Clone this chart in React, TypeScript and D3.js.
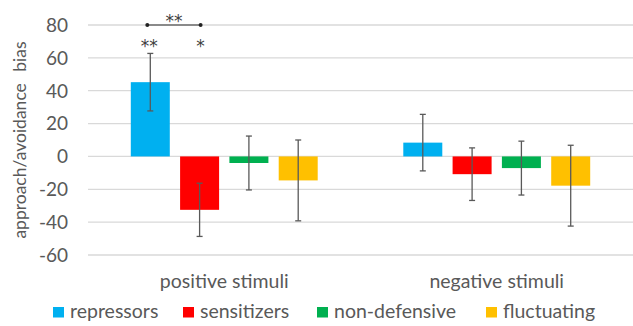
import React from "react";
import * as d3 from "d3";

const categories = ["positive stimuli", "negative stimuli"];
const groups = ["repressors", "sensitizers", "non-defensive", "fluctuating"];
const colors = ["#00B0F0", "#FF0000", "#00B050", "#FFC000"];
const positiveMeans = [45.2, -32.5, -4, -14.6];
const positiveErrors = [17.5, 16.2, 16.4, 24.6];
const negativeMeans = [8.4, -10.8, -7.1, -17.8];
const negativeErrors = [17.2, 16, 16.4, 24.6];
const yTicks = [-60, -40, -20, 0, 20, 40, 60, 80];

const W = 633, H = 326;
const FONT = "Lato, 'Open Sans', sans-serif";
const STAR = "'DejaVu Sans', sans-serif";

export default function App() {
  const x0 = d3.scaleBand<string>().domain(categories).range([88, 633]).paddingInner(0).paddingOuter(0);
  const y = d3.scaleLinear().domain([-60, 80]).range([255, 25]);
  const x1 = d3.scaleBand<string>().domain(groups).range([0, x0.bandwidth()]).paddingInner(0.209).paddingOuter(0.868);
  const means = [positiveMeans, negativeMeans];
  const errs = [positiveErrors, negativeErrors];
  const cx = (ci: number, gi: number) => (x0(categories[ci]) as number) + (x1(groups[gi]) as number) + x1.bandwidth() / 2;

  const legendX = [53, 183, 317, 486];
  const b0 = cx(0, 0), b1 = cx(0, 1);
  return (
    <svg width={W} height={H} style={{ position: "absolute", left: 0, top: 0, background: "#fff" }}>
      {yTicks.map((t) => (
        <g key={t}>
          <line x1={88} x2={633} y1={y(t)} y2={y(t)} stroke="#D9D9D9" strokeWidth={1.3} />
          <text x={68} y={y(t)} dy="0.36em" textAnchor="end" fontFamily={FONT} fontSize={19} fill="#595959">{t}</text>
        </g>
      ))}
      {categories.map((c, ci) =>
        groups.map((g, gi) => {
          const v = means[ci][gi];
          const e = errs[ci][gi];
          const xx = (x0(c) as number) + (x1(g) as number);
          const mid = xx + x1.bandwidth() / 2;
          return (
            <g key={c + g}>
              <rect x={xx} y={Math.min(y(v), y(0))} width={x1.bandwidth()} height={Math.abs(y(v) - y(0))} fill={colors[gi]} />
              <line x1={mid} x2={mid} y1={y(v + e)} y2={y(v - e)} stroke="#595959" strokeWidth={1.3} />
              <line x1={mid - 3} x2={mid + 3} y1={y(v + e)} y2={y(v + e)} stroke="#595959" strokeWidth={1.3} />
              <line x1={mid - 3} x2={mid + 3} y1={y(v - e)} y2={y(v - e)} stroke="#595959" strokeWidth={1.3} />
            </g>
          );
        })
      )}
      {categories.map((c) => (
        <text key={c} x={(x0(c) as number) + x0.bandwidth() / 2} y={288} textAnchor="middle" fontFamily={FONT} fontSize={19.5} fill="#595959">{c}</text>
      ))}
      <text transform={`translate(26,${(y(80) + y(-60)) / 2}) rotate(-90)`} textAnchor="middle" fontFamily={FONT} fontSize={17.5} fill="#595959">
        approach/avoidance<tspan dx={7}> bias</tspan>
      </text>
      {/* significance */}
      <line x1={b0 - 3} x2={b1 + 1} y1={y(80)} y2={y(80)} stroke="#333" strokeWidth={1.2} />
      <circle cx={b0 - 3} cy={y(80)} r={2} fill="#222" />
      <circle cx={b1 + 1} cy={y(80)} r={2} fill="#222" />
      <text x={(b0 + b1) / 2 - 1} y={y(80) + 2} textAnchor="middle" fontFamily={STAR} fontSize={17} fill="#404040">**</text>
      <text x={b0 - 1} y={y(80) + 27} textAnchor="middle" fontFamily={STAR} fontSize={17} fill="#404040">**</text>
      <text x={b1 + 1} y={y(80) + 27} textAnchor="middle" fontFamily={STAR} fontSize={17} fill="#404040">*</text>
      {groups.map((g, gi) => (
        <g key={g}>
          <rect x={legendX[gi]} y={307} width={11} height={10.5} fill={colors[gi]} />
          <text x={legendX[gi] + 17} y={318} fontFamily={FONT} fontSize={19.5} fill="#595959">{g}</text>
        </g>
      ))}
    </svg>
  );
}
